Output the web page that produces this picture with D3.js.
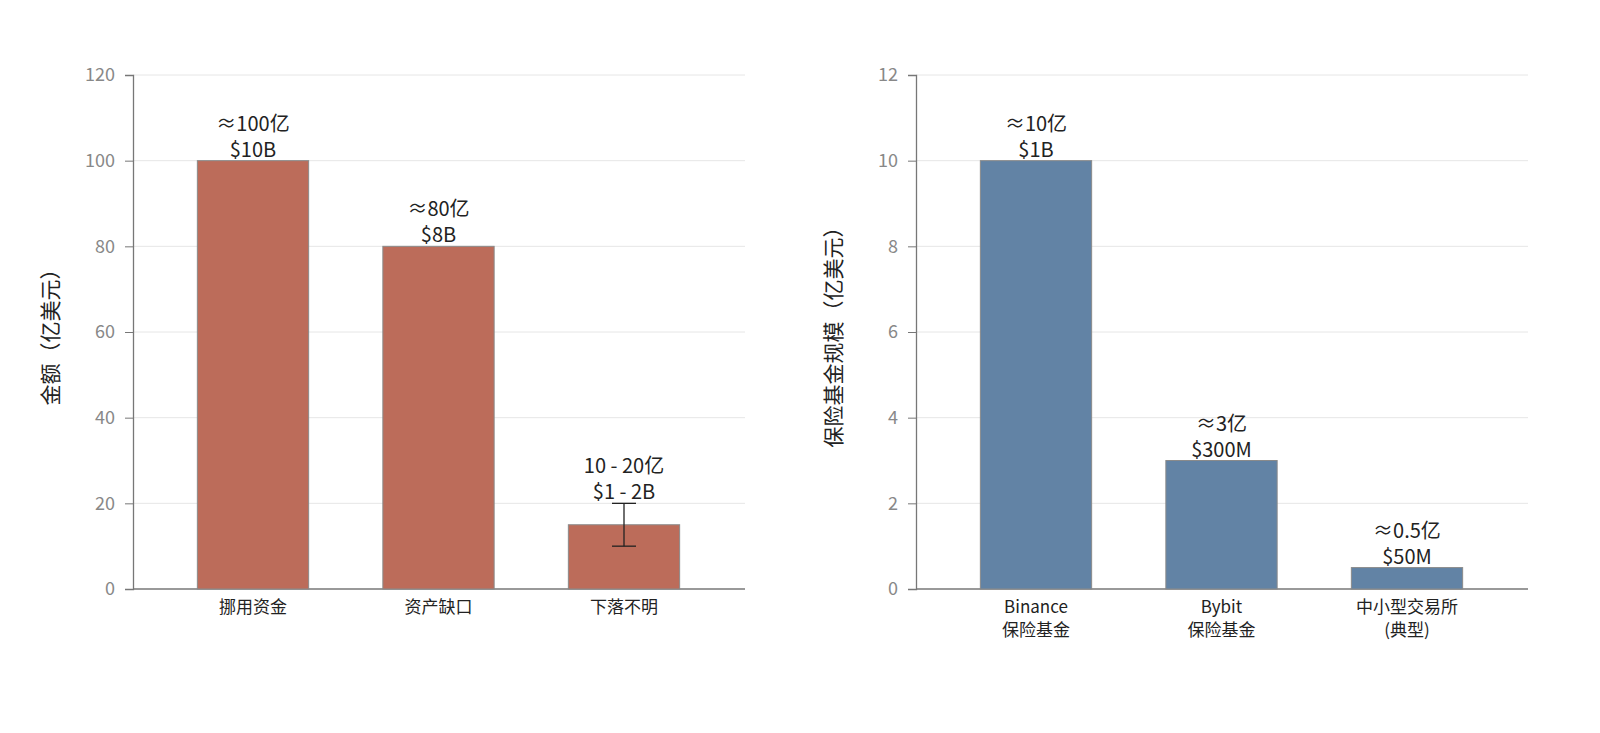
<!DOCTYPE html><html><head><meta charset="utf-8">
<script src="https://cdn.jsdelivr.net/npm/d3@7"></script>
<style>body{margin:0;background:#fff}text{font-family:"Noto Sans CJK SC","Noto Sans",sans-serif}</style></head><body>
<svg id="c" width="1600" height="733"></svg>
<script>
const leftCats=[["挪用资金"],["资产缺口"],["下落不明"]];
const leftVals=[100,80,15];
const leftLabels=[["≈100亿","$10B"],["≈80亿","$8B"],["10 - 20亿","$1 - 2B"]];
const leftErr=[null,null,[10,20]];
const leftTicks=[0,20,40,60,80,100,120];
const rightCats=[["Binance","保险基金"],["Bybit","保险基金"],["中小型交易所","(典型)"]];
const rightVals=[10,3,0.5];
const rightLabels=[["≈10亿","$1B"],["≈3亿","$300M"],["≈0.5亿","$50M"]];
const rightTicks=[0,2,4,6,8,10,12];
const svg=d3.select("#c");
function panel(x0,x1,cats,vals,labels,errs,ticks,ymax,color,ylabel){
  const g=svg.append("g");
  const y=d3.scaleLinear().domain([0,ymax]).range([589,75]);
  const x=d3.scaleBand().domain(d3.range(cats.length)).range([x0+27.25,x1-28.25]).paddingInner(0.4).paddingOuter(0.2);
  ticks.forEach(t=>{ if(t>0) g.append("line").attr("x1",x0).attr("x2",x1).attr("y1",y(t)).attr("y2",y(t)).attr("stroke","#e6e6e6");});
  const ax=g.append("g").attr("transform",`translate(${x0},0)`).call(d3.axisLeft(y).tickValues(ticks).tickSize(8).tickPadding(10));
  ax.select(".domain").attr("stroke","#777").attr("stroke-width",1.3);
  ax.selectAll(".tick line").attr("stroke","#777");
  ax.selectAll(".tick text").attr("fill","#888").attr("font-size",18);
  g.append("line").attr("x1",x0).attr("x2",x1).attr("y1",589).attr("y2",589).attr("stroke","#777").attr("stroke-width",1.6);
  vals.forEach((v,i)=>{
    g.append("rect").attr("x",x(i)).attr("width",x.bandwidth()).attr("y",y(v)).attr("height",y(0)-y(v)).attr("fill",color).attr("stroke","#8a8a8a").attr("stroke-width",1);
    const cx=x(i)+x.bandwidth()/2;
    let top=y(v);
    if(errs&&errs[i]){const [a,b]=errs[i];
      g.append("line").attr("x1",cx).attr("x2",cx).attr("y1",y(a)).attr("y2",y(b)).attr("stroke","#222").attr("stroke-width",1.3);
      [a,b].forEach(e=>g.append("line").attr("x1",cx-12).attr("x2",cx+12).attr("y1",y(e)).attr("y2",y(e)).attr("stroke","#222").attr("stroke-width",1.3));
      top=y(b);}
    labels[i].forEach((s,k)=>g.append("text").attr("x",cx).attr("y",top-30+k*26-(labels[i].length-2)*26).attr("text-anchor","middle").attr("font-size",20).attr("fill","#222").text(s));
    cats[i].forEach((s,k)=>g.append("text").attr("x",cx).attr("y",613+k*23).attr("text-anchor","middle").attr("font-size",17).attr("fill","#222").text(s));
  });
  g.append("text").attr("transform",`translate(${x0-75},${y(ymax/2)}) rotate(-90)`).attr("text-anchor","middle").attr("font-size",21).attr("fill","#222").text(ylabel);
}
panel(133,745,leftCats,leftVals,leftLabels,leftErr,leftTicks,120,"#bc6c5a","金额（亿美元）");
panel(916,1528,rightCats,rightVals,rightLabels,null,rightTicks,12,"#6283a5","保险基金规模（亿美元）");
</script></body></html>
